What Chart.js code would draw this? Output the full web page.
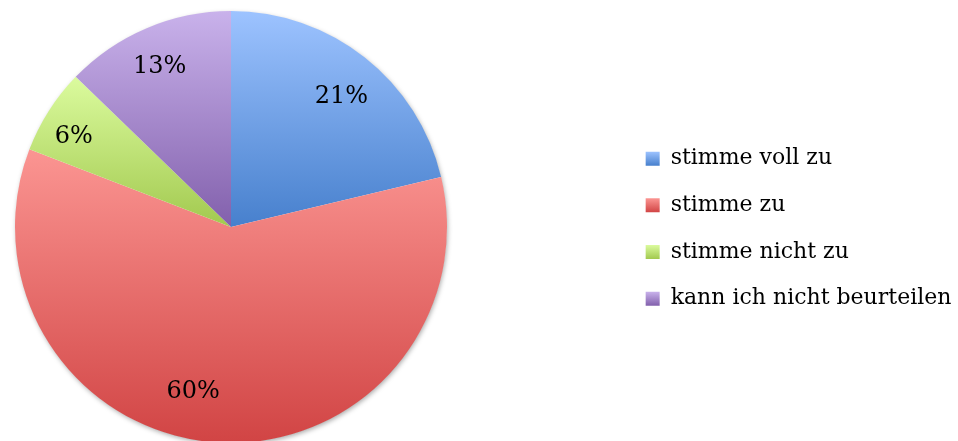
<!DOCTYPE html>
<html><head><meta charset="utf-8">
<script src="https://cdn.jsdelivr.net/npm/chart.js@4.4.0/dist/chart.umd.min.js"></script>
<style>html,body{margin:0;padding:0;background:#fff;overflow:hidden}canvas{display:block}</style>
</head><body>
<canvas id="c" width="958" height="441"></canvas>
<script>
// ---- data ----
const categories = ['stimme voll zu', 'stimme zu', 'stimme nicht zu', 'kann ich nicht beurteilen'];
const counts = [10, 28, 3, 6];
const colorTop = ['#9DC3FF', '#FB9592', '#DBFB9E', '#C9B2EB'];
const colorBottom = ['#4780CD', '#D14444', '#A2C94F', '#8260AC'];

const total = counts.reduce((a, b) => a + b, 0);
const percentLabels = counts.map(v => Math.round(v / total * 100) + '%');

function sliceYBounds(chart, index) {
  const ca = chart.chartArea;
  const cy = (ca.top + ca.bottom) / 2;
  const r = Math.min(ca.width, ca.height) / 2;
  let cum = 0; for (let i = 0; i < index; i++) cum += counts[i];
  const a0 = -Math.PI / 2 + cum / total * 2 * Math.PI;
  const a1 = a0 + counts[index] / total * 2 * Math.PI;
  const ys = [cy, cy + r * Math.sin(a0), cy + r * Math.sin(a1)];
  for (const a of [-Math.PI / 2, Math.PI / 2, 3 * Math.PI / 2]) {
    if (a >= a0 && a <= a1) ys.push(cy + r * Math.sin(a));
  }
  return [Math.min(...ys), Math.max(...ys)];
}

const LEGEND = { left: 621, top: 123, padding: 24.67, font: 22, box: 14 };

const layoutFix = {
  id: 'layoutFix',
  afterLayout(chart) {
    Object.assign(chart.chartArea, { left: 15, top: 11, right: 447, bottom: 443, width: 432, height: 432 });
    const lg = chart.legend;
    const w = lg.width, h = lg.height;
    lg.left = LEGEND.left; lg.right = LEGEND.left + w;
    lg.top = LEGEND.top; lg.bottom = LEGEND.top + h;
  },
  afterUpdate(chart) {
    const lg = chart.legend;
    if (!lg || !lg.legendItems) return;
    lg.legendItems.forEach((item, i) => {
      const y0 = lg.top + LEGEND.padding + i * (LEGEND.font + LEGEND.padding) + (LEGEND.font - LEGEND.box) / 2;
      const g = chart.ctx.createLinearGradient(0, y0, 0, y0 + LEGEND.box);
      g.addColorStop(0, colorTop[i]);
      g.addColorStop(1, colorBottom[i]);
      item.fillStyle = g;
      item.lineWidth = 0;
    });
  }
};

const pieShadow = {
  id: 'pieShadow',
  beforeDatasetsDraw(chart) {
    const arc = chart.getDatasetMeta(0).data[0];
    if (!arc) return;
    const ctx = chart.ctx;
    ctx.save();
    ctx.shadowColor = 'rgba(0,0,0,0.35)';
    ctx.shadowBlur = 5;
    ctx.shadowOffsetX = 1;
    ctx.shadowOffsetY = 2;
    ctx.fillStyle = '#fff';
    ctx.beginPath();
    ctx.arc(arc.x, arc.y, arc.outerRadius - 0.5, 0, 2 * Math.PI);
    ctx.fill();
    ctx.restore();
  }
};

const pctLabels = {
  id: 'pctLabels',
  afterDatasetsDraw(chart, args, opts) {
    const meta = chart.getDatasetMeta(0);
    const ctx = chart.ctx;
    ctx.save();
    ctx.font = opts.size + 'px "DejaVu Serif"';
    ctx.fillStyle = '#000';
    ctx.textAlign = 'center';
    ctx.textBaseline = 'alphabetic';
    meta.data.forEach((arc, i) => {
      const p = opts.place[i];
      const mid = (arc.startAngle + arc.endAngle) / 2 + p[0] * Math.PI / 180;
      const r = arc.outerRadius * p[1];
      const x = arc.x + r * Math.cos(mid);
      const y = arc.y + r * Math.sin(mid);
      ctx.fillText(percentLabels[i], x, y + opts.size * 0.365);
    });
    ctx.restore();
  }
};

new Chart(document.getElementById('c'), {
  type: 'pie',
  data: {
    labels: categories,
    datasets: [{
      data: counts,
      borderWidth: 0,
      backgroundColor: (ctx) => {
        const i = ctx.dataIndex;
        const chart = ctx.chart;
        if (!chart.chartArea) return colorTop[i];
        const [y0, y1] = sliceYBounds(chart, i);
        const g = chart.ctx.createLinearGradient(0, y0, 0, y1);
        g.addColorStop(0, colorTop[i]);
        g.addColorStop(1, colorBottom[i]);
        return g;
      }
    }]
  },
  options: {
    responsive: false,
    animation: false,
    devicePixelRatio: 1,
    plugins: {
      tooltip: { enabled: false },
      legend: {
        position: 'right',
        align: 'start',
        labels: {
          boxWidth: LEGEND.box,
          boxHeight: LEGEND.box,
          padding: LEGEND.padding,
          color: '#000',
          font: { family: '"DejaVu Serif"', size: LEGEND.font }
        }
      },
      pctLabels: {
        size: 24,
        place: [[1.4, 0.80], [9.3, 0.77], [-2.1, 0.844], [-0.75, 0.822]]
      }
    }
  },
  plugins: [layoutFix, pieShadow, pctLabels]
});
</script>
</body></html>
